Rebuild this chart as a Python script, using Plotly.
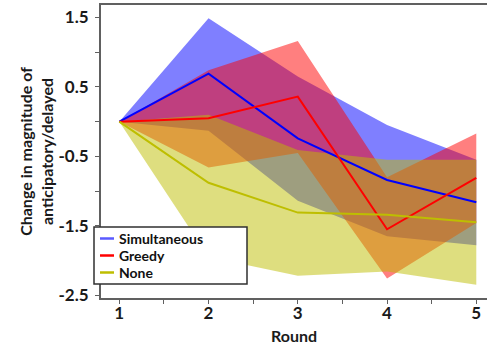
import plotly.graph_objects as go

rounds = [1, 2, 3, 4, 5]

sim_mean = [0.0, 0.69, -0.24, -0.84, -1.16]
sim_upper = [0.0, 1.49, 0.65, -0.05, -0.55]
sim_lower = [0.0, -0.13, -1.14, -1.65, -1.78]

greedy_mean = [0.0, 0.05, 0.36, -1.55, -0.81]
greedy_upper = [0.0, 0.74, 1.16, -0.80, -0.17]
greedy_lower = [0.0, -0.66, -0.45, -2.26, -1.46]

none_mean = [0.0, -0.88, -1.31, -1.34, -1.45]
none_upper = [0.0, 0.10, -0.41, -0.55, -0.55]
none_lower = [0.0, -1.95, -2.22, -2.16, -2.35]

series = [
    ("Simultaneous", sim_mean, sim_upper, sim_lower, "rgb(0,0,255)", "rgba(0,0,255,0.5)", "rgb(90,90,255)"),
    ("Greedy", greedy_mean, greedy_upper, greedy_lower, "rgb(255,0,0)", "rgba(255,0,0,0.5)", "rgb(255,0,0)"),
    ("None", none_mean, none_upper, none_lower, "rgb(190,190,0)", "rgba(190,190,0,0.5)", "rgb(190,190,0)"),
]

FONT = "Lato"
fig = go.Figure()

for name, mean, up, lo, lc, fc, legc in series:
    fig.add_trace(go.Scatter(
        x=rounds + rounds[::-1], y=up + lo[::-1], fill="toself", fillcolor=fc,
        line=dict(width=0), mode="lines", showlegend=False, hoverinfo="skip"))

for name, mean, up, lo, lc, fc, legc in series:
    fig.add_trace(go.Scatter(
        x=rounds, y=mean, mode="lines", name=name, line=dict(color=lc, width=2),
        showlegend=False))

# Legend drawn as a box with sample lines and labels (pixel positions -> paper coords)
PL, PW, PB, PH = 101, 386, 298, 293
def px(x):
    return (x - PL) / PW
def py(y):
    return (PB - y) / PH

fig.add_shape(type="rect", xref="paper", yref="paper",
              x0=px(94), x1=px(247), y0=py(284), y1=py(227),
              fillcolor="white", line=dict(color="#303030", width=1.5), layer="above")
row_y = [238.5, 255.5, 272.5]
for (name, mean, up, lo, lc, fc, legc), ry in zip(series, row_y):
    fig.add_shape(type="line", xref="paper", yref="paper",
                  x0=px(100), x1=px(114), y0=py(ry), y1=py(ry),
                  line=dict(color=legc, width=2.5), layer="above")
    fig.add_annotation(xref="paper", yref="paper", x=px(118), y=py(ry),
                       xanchor="left", yanchor="middle", text=name, showarrow=False,
                       borderpad=0,
                       font=dict(family=FONT, size=14, color="#111111", weight="bold"))

fig.update_layout(
    width=487, height=348,
    margin=dict(l=101, r=0, t=5, b=50),
    plot_bgcolor="white", paper_bgcolor="white",
    font=dict(family=FONT, color="#1a1a1a"),
    showlegend=False,
    xaxis=dict(
        range=[0.795, 5.12], tickvals=rounds, ticktext=[str(r) for r in rounds],
        showgrid=False, zeroline=False, showline=True, linecolor="#606060", linewidth=2,
        mirror=True, ticks="outside", ticklen=4, tickcolor="#606060",
        minor=dict(dtick=0.5, tick0=1, ticks="outside", ticklen=4, tickcolor="#606060"),
        tickfont=dict(family=FONT, size=17, weight="bold"), ticklabelstandoff=-5,
        title=dict(text="Round", font=dict(family=FONT, size=16, weight="bold"), standoff=8),
    ),
    yaxis=dict(
        range=[-2.54, 1.68], tickvals=[1.5, 0.5, -0.5, -1.5, -2.5],
        ticktext=["1.5", "0.5", "-0.5", "-1.5", "-2.5"],
        showgrid=False, zeroline=False, showline=True, linecolor="#606060", linewidth=2,
        ticks="outside", ticklen=4, tickcolor="#606060",
        minor=dict(dtick=0.5, tick0=0, ticks="outside", ticklen=4, tickcolor="#606060"),
        tickfont=dict(family=FONT, size=17, weight="bold"), ticklabelstandoff=3,
        title=dict(text="Change in magnitude of<br>anticipatory/delayed",
                   font=dict(family=FONT, size=16, weight="bold"), standoff=1),
    ),
)

fig.write_html("out.html")
